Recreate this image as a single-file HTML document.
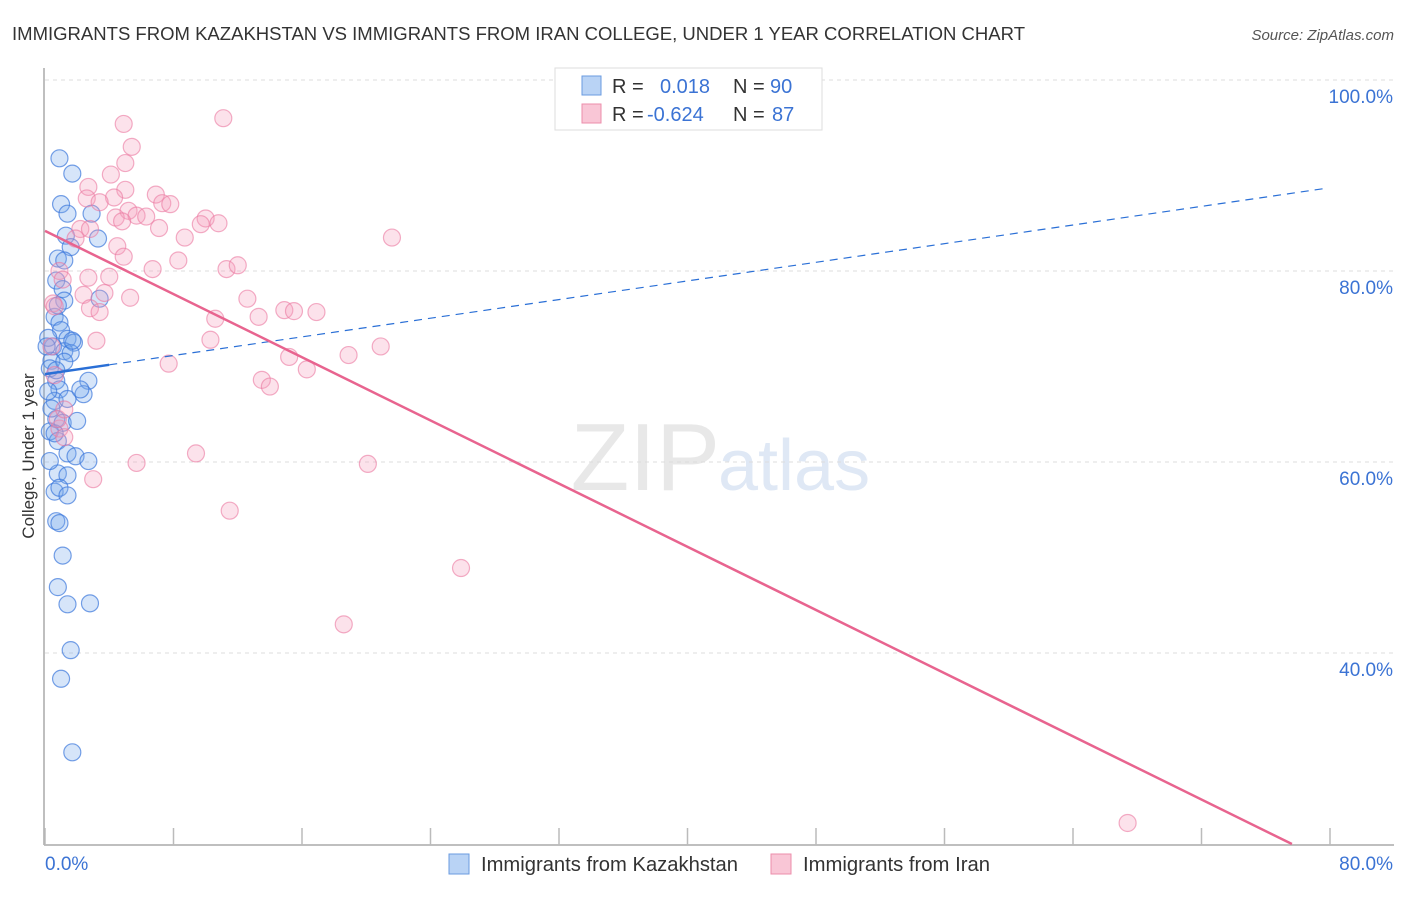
<!DOCTYPE html>
<html><head><meta charset="utf-8"><style>
body{margin:0;background:#fff;font-family:"Liberation Sans",sans-serif}
svg text{font-family:"Liberation Sans",sans-serif}
</style></head><body>
<svg id="chart" width="1406" height="892">
<text x="12" y="40" font-size="18" fill="#333" textLength="1013" lengthAdjust="spacingAndGlyphs">IMMIGRANTS FROM KAZAKHSTAN VS IMMIGRANTS FROM IRAN COLLEGE, UNDER 1 YEAR CORRELATION CHART</text>
<text x="1394" y="40" font-size="15" fill="#555" font-style="italic" text-anchor="end">Source: ZipAtlas.com</text>
<text x="720" y="490" font-size="96" fill="#e8e8e8" text-anchor="end" font-family="Liberation Serif">ZIP</text>
<text x="718" y="490" font-size="72" fill="#dfe8f5">atlas</text>
<g id="grid"></g><g id="axes"></g><g id="pts"></g><g id="lines"></g>
<text transform="translate(34,456) rotate(-90)" font-size="17" fill="#333" text-anchor="middle">College, Under 1 year</text>
<g>
<rect x="555" y="68" width="267" height="62" fill="#fff" stroke="#ddd"/>
<rect x="582" y="76" width="19" height="19" fill="#b9d3f5" stroke="#6a9be0"/>
<rect x="582" y="104" width="19" height="19" fill="#f9c6d6" stroke="#ec8eab"/>
<text x="612" y="93" font-size="20" fill="#333">R = </text><text x="660" y="93" font-size="20" fill="#3b73d4">0.018</text>
<text x="733" y="93" font-size="20" fill="#333">N = </text><text x="770" y="93" font-size="20" fill="#3b73d4">90</text>
<text x="612" y="121" font-size="20" fill="#333">R = </text><text x="647" y="121" font-size="20" fill="#3b73d4">-0.624</text>
<text x="733" y="121" font-size="20" fill="#333">N = </text><text x="772" y="121" font-size="20" fill="#3b73d4">87</text>
</g>
<g>
<rect x="449" y="854" width="20" height="20" fill="#b9d3f5" stroke="#6a9be0"/>
<text x="481" y="871" font-size="20" fill="#333" textLength="257" lengthAdjust="spacingAndGlyphs">Immigrants from Kazakhstan</text>
<rect x="771" y="854" width="20" height="20" fill="#f9c6d6" stroke="#ec8eab"/>
<text x="803" y="871" font-size="20" fill="#333" textLength="187" lengthAdjust="spacingAndGlyphs">Immigrants from Iran</text>
</g>
</svg>
<script>
const yTicks=[40,60,80,100];
const xTickLabels=["0.0%","80.0%"];
const blueX=[0.9,1.7,1.0,1.4,2.9,1.3,1.6,3.3,0.8,1.2,0.7,1.1,1.2,0.6,0.9,1.0,1.4,1.8,0.5,1.2,0.4,1.6,2.7,0.7,0.9,2.4,0.6,1.4,0.7,1.1,2.0,0.3,0.8,1.4,1.9,2.7,0.8,1.4,0.6,0.9,1.4,0.7,0.9,1.1,0.8,1.4,2.8,1.6,1.0,1.7,0.2,0.3,0.4,0.6,0.1,0.2,0.3,2.2,1.2,1.7,0.8,3.4,0.7];
const blueY=[91.8,90.2,87.0,86.0,86.0,83.7,82.5,83.4,81.3,81.1,79.0,78.1,76.9,75.2,74.6,73.8,72.9,72.5,72.1,71.6,70.6,71.4,68.5,68.5,67.6,67.1,66.4,66.6,64.5,64.1,64.3,63.2,62.2,60.9,60.6,60.1,58.8,58.6,56.9,57.3,56.5,53.8,53.6,50.2,46.9,45.1,45.2,40.3,37.3,29.6,73.0,69.8,65.6,63.0,72.1,67.4,60.1,67.6,70.5,72.7,76.4,77.1,69.6];
const pinkX=[4.9,11.1,5.4,5.0,4.1,2.7,5.0,6.9,7.3,7.8,4.3,5.2,5.7,6.3,4.4,4.8,10.0,10.8,9.7,7.1,8.7,2.2,2.8,1.9,4.5,4.9,8.3,6.7,11.3,12.0,0.9,1.1,2.7,4.0,3.7,2.4,5.3,12.6,0.5,0.6,2.8,3.4,10.6,13.3,14.9,15.5,16.9,10.3,3.2,7.7,15.2,18.9,20.9,13.5,14.0,16.3,0.9,1.2,3.0,5.7,9.4,11.5,20.1,25.9,18.6,67.4,0.6,0.8,1.2,0.4,21.6,2.6,3.4];
const pinkY=[95.4,96.0,93.0,91.3,90.1,88.8,88.5,88.0,87.1,87.0,87.7,86.3,85.8,85.7,85.6,85.2,85.5,85.0,84.9,84.5,83.5,84.4,84.4,83.4,82.6,81.5,81.1,80.2,80.2,80.6,80.0,79.1,79.3,79.4,77.7,77.5,77.2,77.1,76.6,76.3,76.1,75.7,75.0,75.2,75.9,75.8,75.7,72.8,72.7,70.3,71.0,71.2,72.1,68.6,67.9,69.7,63.5,62.6,58.2,59.9,60.9,54.9,59.8,48.9,43.0,22.2,69.1,64.5,65.5,72.1,83.5,87.6,87.2];
const blueFit=[69.2,0.244];
const pinkFit=[84.2,-0.827];
const NS="http://www.w3.org/2000/svg";
function sx(v){return 45+v*1285/80;}
function sy(v){return 271+(80-v)*9.55;}
function mk(tag,attrs,parent){const e=document.createElementNS(NS,tag);for(const k in attrs)e.setAttribute(k,attrs[k]);document.getElementById(parent).appendChild(e);return e;}
yTicks.forEach(t=>{
 const g=mk('line',{x1:45,x2:1394,y1:sy(t),y2:sy(t),stroke:'#ddd','stroke-dasharray':'4,4'},'grid');
 
 
 const l=mk('text',{x:1393,y:sy(t)+23,'font-size':19,fill:'#3b73d4','text-anchor':'end'},'grid');
 l.textContent=t.toFixed(1)+'%';
 
 
});
mk('line',{x1:44,x2:44,y1:68,y2:845,stroke:'#aaa','stroke-width':1.5},'axes');
mk('line',{x1:44,x2:1394,y1:845,y2:845,stroke:'#aaa','stroke-width':1.5},'axes');
for(let i=0;i<=10;i++){mk('line',{x1:sx(i*8),x2:sx(i*8),y1:828,y2:845,stroke:'#bbb','stroke-width':1.5},'axes');}
const xl0=mk('text',{x:45,y:870,'font-size':19,fill:'#3b73d4'},'axes');xl0.textContent=xTickLabels[0];


const xl1=mk('text',{x:1393,y:870,'font-size':19,fill:'#3b73d4','text-anchor':'end'},'axes');xl1.textContent=xTickLabels[1];


blueX.forEach((x,i)=>{const c=mk('circle',{cx:sx(x),cy:sy(blueY[i]),r:8.5,fill:'rgba(120,170,235,0.3)',stroke:'rgba(60,120,220,0.7)','stroke-width':1.2},'pts');
 
 });
pinkX.forEach((x,i)=>{const c=mk('circle',{cx:sx(x),cy:sy(pinkY[i]),r:8.5,fill:'rgba(245,160,190,0.3)',stroke:'rgba(235,120,160,0.6)','stroke-width':1.2},'pts');
 
 });
const bl=mk('line',{x1:sx(0),y1:sy(blueFit[0]),x2:sx(4),y2:sy(blueFit[0]+blueFit[1]*4),stroke:'#2a6fd6','stroke-width':2.5},'lines');


const bd=mk('line',{x1:sx(4),y1:sy(blueFit[0]+blueFit[1]*4),x2:sx(79.9),y2:sy(blueFit[0]+blueFit[1]*79.9),stroke:'#2a6fd6','stroke-width':1.2,'stroke-dasharray':'8,6'},'lines');


const xe=(20-pinkFit[0])/pinkFit[1];
const pl=mk('line',{x1:sx(0),y1:sy(pinkFit[0]),x2:sx(xe),y2:sy(20),stroke:'#e8648f','stroke-width':2.5},'lines');


</script>
</body></html>
